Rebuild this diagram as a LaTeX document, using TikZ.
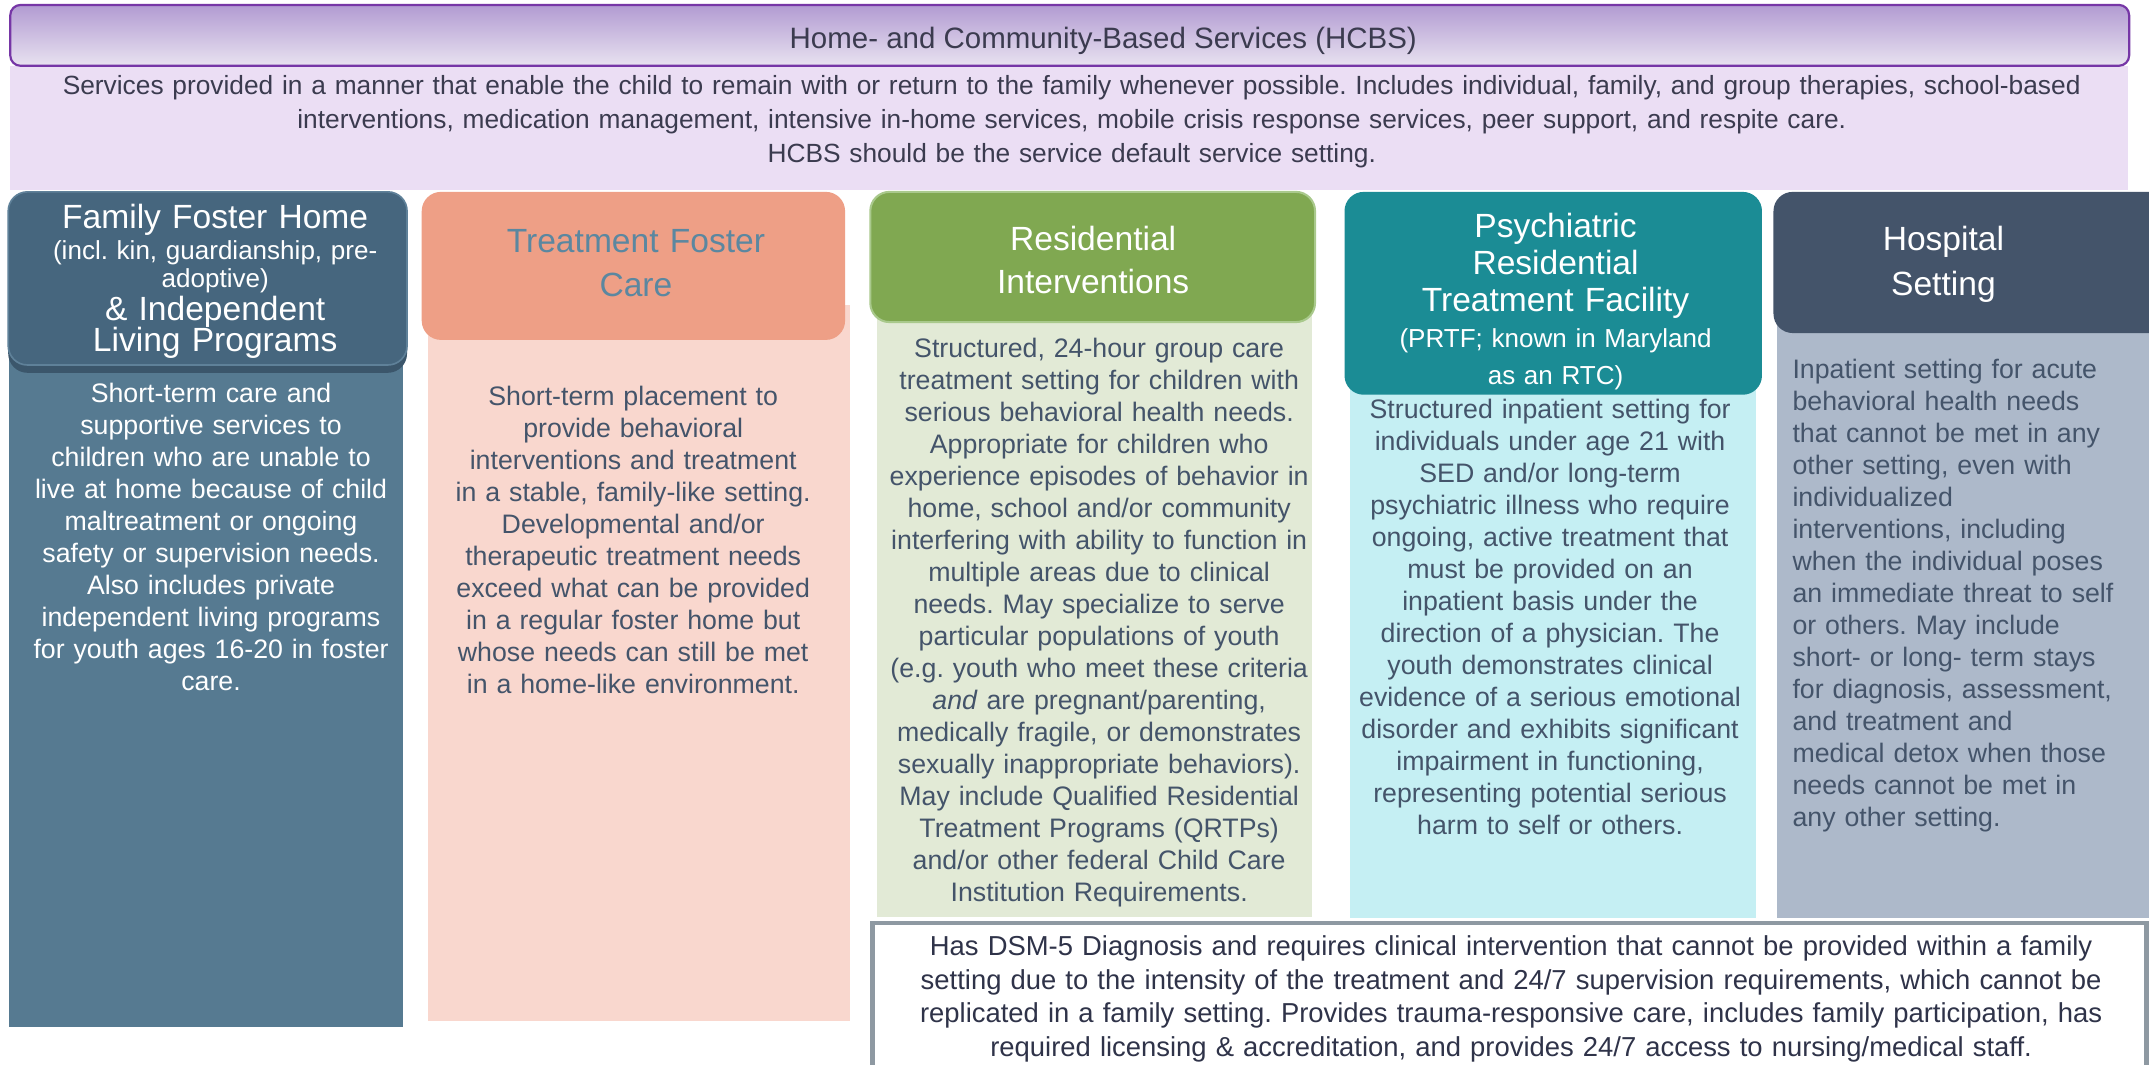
\documentclass[tikz,border=0pt]{standalone}
\usepackage{fontspec}
\setmainfont{Liberation Sans}
\frenchspacing
\definecolor{titlebord}{HTML}{7636A6}
\definecolor{titletop}{HTML}{B29BD2}
\definecolor{titlebot}{HTML}{E8E2F0}
\definecolor{bandfill}{HTML}{EBDEF4}
\definecolor{bandtxt}{HTML}{3B3B4F}
\definecolor{cAhdr}{HTML}{46667E}
\definecolor{cAedge}{HTML}{5F8199}
\definecolor{cAshadow}{HTML}{3B566B}
\definecolor{cAbody}{HTML}{567A91}
\definecolor{cBhdr}{HTML}{EE9F86}
\definecolor{cBbody}{HTML}{F9D7CE}
\definecolor{cBtxt}{HTML}{5B87A0}
\definecolor{cChdr}{HTML}{80A851}
\definecolor{cCedge}{HTML}{A9C98C}
\definecolor{cCbody}{HTML}{E2EAD6}
\definecolor{cDhdr}{HTML}{1B8C95}
\definecolor{cDbody}{HTML}{C5EFF3}
\definecolor{cEhdr}{HTML}{44546A}
\definecolor{cEbody}{HTML}{ADB9CA}
\definecolor{bodytxt}{HTML}{44546A}
\definecolor{boxedge}{HTML}{8E99A2}
\definecolor{boxtxt}{HTML}{2F3349}
\tikzset{
  hdrshape/.style={rounded corners=14pt},
  hdrbig/.style={anchor=base, inner sep=0pt, align=center, text width=320pt, font=\fontsize{24.5}{#1}\selectfont},
  hdrbig/.default=30,
  hdrsmall/.style={anchor=base, inner sep=0pt, align=center, text width=320pt, font=\fontsize{19}{#1}\selectfont},
  hdrsmall/.default=24,
  bodytext/.style={anchor=base, inner sep=0pt, align=center, text width=340pt, font=\fontsize{19.5}{23.35}\selectfont, text=bodytxt},
}
\begin{document}
\begin{tikzpicture}[x=1pt,y=-1pt]
\useasboundingbox (0,0) rectangle (1568,777);
\fill[white] (0,0) rectangle (1568,777);

% HCBS band and title
\fill[bandfill] (7.5,48) rectangle (1553,138.6);
\draw[titlebord, line width=1.6pt, rounded corners=7.5pt, top color=titletop, bottom color=titlebot] (7.5,3.6) rectangle (1553.5,48);
\node[anchor=base, inner sep=0pt, font=\fontsize{21.5}{26}\selectfont, text=bandtxt] (titletext) at (805,35.5) {Home- and Community-Based Services (HCBS)};
\node[anchor=base, inner sep=0pt, align=center, text width=1540pt, font=\fontsize{19.2}{24.6}\selectfont, text=bandtxt] (bandtext) at (782,69)
  {Services provided in a manner that enable the child to remain with or return to the family whenever possible. Includes individual, family, and group therapies, school-based\\
   interventions, medication management, intensive in-home services, mobile crisis response services, peer support, and respite care.\\
   HCBS should be the service default service setting.};

% Column 1: Family Foster Home
\fill[cAbody] (6.8,190) rectangle (294,749);
\fill[cAshadow, hdrshape] (6,146) rectangle (297,272);
\draw[cAedge, fill=cAhdr, line width=1.2pt, hdrshape] (6,140) rectangle (297,266.3);
\node[hdrbig=23, text=white] (hAa) at (157,166.7) {Family Foster Home};
\node[hdrsmall=20.7, text=white] (hAb) at (157,189.3) {(incl. kin, guardianship, pre-\\adoptive)};
\node[hdrbig=23.1, text=white] (hAc) at (157,233.6) {\& Independent\\Living Programs};
\node[bodytext, text=white] (bA) at (154,294)
  {Short-term care and\\ supportive services to\\ children who are unable to\\ live at home because of child\\ maltreatment or ongoing\\ safety or supervision needs.\\ Also includes private\\ independent living programs\\ for youth ages 16-20 in foster\\ care.};

% Column 2: Treatment Foster Care
\fill[cBbody] (312.5,222.5) rectangle (620,745);
\fill[cBhdr, hdrshape] (307.7,140) rectangle (616.6,248);
\node[hdrbig=32, text=cBtxt] (hB) at (464,184.5) {Treatment Foster\\Care};
\node[bodytext] (bB) at (462,296)
  {Short-term placement to\\ provide behavioral\\ interventions and treatment\\ in a stable, family-like setting.\\ Developmental and/or\\ therapeutic treatment needs\\ exceed what can be provided\\ in a regular foster home but\\ whose needs can still be met\\ in a home-like environment.};

% Column 3: Residential Interventions
\fill[cCbody] (640,225) rectangle (957,669);
\draw[cCedge, fill=cChdr, line width=1.5pt, hdrshape] (635,140) rectangle (959.5,235);
\node[hdrbig=31.5, text=white] (hC) at (797.6,182.5) {Residential\\Interventions};
\node[bodytext] (bC) at (802,261)
  {Structured, 24-hour group care\\ treatment setting for children with\\ serious behavioral health needs.\\ Appropriate for children who\\ experience episodes of behavior in\\ home, school and/or community\\ interfering with ability to function in\\ multiple areas due to clinical\\ needs. May specialize to serve\\ particular populations of youth\\ (e.g. youth who meet these criteria\\ \textit{and} are pregnant/parenting,\\ medically fragile, or demonstrates\\ sexually inappropriate behaviors).\\ May include Qualified Residential\\ Treatment Programs (QRTPs)\\ and/or other federal Child Care\\ Institution Requirements.};

% Column 4: PRTF
\fill[cDbody] (985,270) rectangle (1281,670);
\fill[cDhdr, hdrshape] (981,140) rectangle (1285.6,288);
\node[hdrbig=27, text=white] (hDa) at (1135,173) {Psychiatric\\Residential\\Treatment Facility};
\node[hdrsmall=27, text=white] (hDb) at (1135,253.5) {(PRTF; known in Maryland\\as an RTC)};
\node[bodytext] (bD) at (1131,305)
  {Structured inpatient setting for\\ individuals under age 21 with\\ SED and/or long-term\\ psychiatric illness who require\\ ongoing, active treatment that\\ must be provided on an\\ inpatient basis under the\\ direction of a physician. The\\ youth demonstrates clinical\\ evidence of a serious emotional\\ disorder and exhibits significant\\ impairment in functioning,\\ representing potential serious\\ harm to self or others.};

% Column 5: Hospital Setting
\fill[cEbody] (1296.5,230) rectangle (1568,670);
\fill[cEhdr, hdrshape] (1294,140) rectangle (1582,243);
\node[hdrbig=33, text=white] (hE) at (1418,182.5) {Hospital\\Setting};
\node[bodytext, anchor=base west, align=left, text width=262pt] (bE) at (1307.7,276)
  {Inpatient setting for acute\\ behavioral health needs\\ that cannot be met in any\\ other setting, even with\\ individualized\\ interventions, including\\ when the individual poses\\ an immediate threat to self\\ or others. May include\\ short- or long- term stays\\ for diagnosis, assessment,\\ and treatment and\\ medical detox when those\\ needs cannot be met in\\ any other setting.};

% Bottom box
\draw[boxedge, fill=white, line width=3.5pt] (636.5,673.5) rectangle (1566,800);
\node[anchor=base, inner sep=0pt, align=center, text width=1000pt, font=\fontsize{20}{24.7}\selectfont, text=boxtxt] (box) at (1102.6,697)
  {Has DSM-5 Diagnosis and requires clinical intervention that cannot be provided within a family\\
   setting due to the intensity of the treatment and 24/7 supervision requirements, which cannot be\\
   replicated in a family setting. Provides trauma-responsive care, includes family participation, has\\
   required licensing \& accreditation, and provides 24/7 access to nursing/medical staff.};
\end{tikzpicture}
\end{document}
